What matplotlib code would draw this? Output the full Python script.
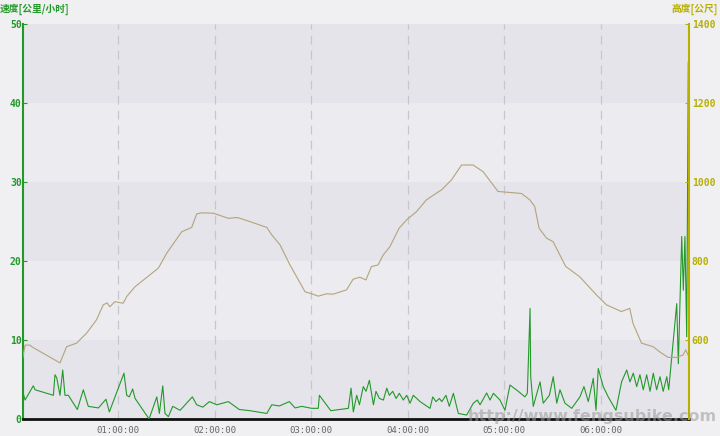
import numpy as np
import matplotlib
matplotlib.use("Agg")
import matplotlib.pyplot as plt

plt.rcParams["font.family"] = ["Noto Sans CJK SC", "DejaVu Sans"]

# speed track: minutes since start, km/h
speed_t = [0.7, 2.2, 7.3, 8.4, 19.8, 20.8, 21.9, 22.9, 23.9, 25.6, 27.0, 29.1,
           34.7, 38.4, 41.5, 47.8, 52.5, 54.6, 63.7, 65.4, 67.0, 69.1, 70.6,
           79.3, 84.1, 85.7, 87.8, 89.2, 91.3, 94.0, 98.6, 106.2, 108.9, 112.7,
           116.8, 121.4, 128.6, 135.4, 142.1, 152.5, 155.6, 160.3, 166.5, 170.1,
           174.2, 180.4, 184.5, 185.2, 192.3, 203.2, 204.9, 206.3, 208.4, 210.1,
           212.5, 214.2, 216.3, 218.8, 220.4, 222.5, 225.0, 227.1, 228.7, 230.8,
           232.9, 234.9, 237.4, 239.5, 241.6, 243.6, 247.8, 254.0, 255.7, 257.7,
           259.8, 261.3, 263.9, 266.0, 268.5, 271.6, 276.8, 280.9, 283.4, 285.1,
           289.2, 291.3, 293.4, 297.5, 300.6, 303.7, 308.9, 313.0, 314.5, 316.2,
           316.6, 318.2, 322.4, 324.4, 328.2, 330.6, 332.8, 334.8, 337.9, 342.1,
           347.2, 349.7, 352.4, 355.5, 357.2, 358.6, 361.7, 364.8, 369.6, 373.1,
           376.3, 378.3, 380.4, 382.5, 384.5, 386.6, 388.7, 390.8, 392.8, 394.9,
           397.0, 399.0, 401.2, 402.4, 404.3, 407.4, 408.4, 410.5, 411.5, 412.5,
           413.6, 414.6, 415.0]
speed_v = [3.5, 2.4, 4.2, 3.7, 3.0, 5.6, 5.2, 4.1, 3.0, 6.2, 3.0, 3.0,
           1.2, 3.7, 1.6, 1.4, 2.5, 0.9, 5.8, 3.0, 2.8, 3.8, 2.6,
           0.0, 2.8, 0.7, 4.2, 0.7, 0.3, 1.6, 1.1, 2.8, 1.8, 1.5,
           2.2, 1.8, 2.2, 1.2, 1.05, 0.7, 1.8, 1.65, 2.2, 1.4,
           1.6, 1.35, 1.35, 3.0, 1.05, 1.35, 3.9, 0.9, 3.0, 1.8,
           4.1, 3.5, 4.9, 1.8, 3.5, 2.6, 2.4, 3.9, 3.0, 3.5,
           2.6, 3.25, 2.4, 3.0, 2.0, 3.0, 2.2, 1.35, 2.8, 2.2,
           2.6, 2.2, 3.0, 1.6, 3.25, 0.7, 0.5, 2.0, 2.4, 1.8,
           3.3, 2.4, 3.25, 2.4, 1.1, 4.3, 3.5, 2.8, 3.25, 14.0,
           5.35, 1.6, 4.7, 2.0, 3.0, 5.35, 2.0, 3.7, 2.0, 1.35,
           2.8, 4.1, 2.2, 5.15, 1.1, 6.4, 4.1, 2.8, 1.1, 4.7,
           6.2, 4.7, 5.8, 4.1, 5.6, 3.7, 5.6, 3.5, 5.8, 3.7,
           5.35, 3.5, 5.35, 3.7, 7.9, 14.6, 7.0, 23.1, 16.3, 23.1,
           10.4, 45.2, 16.3]

# altitude track: minutes since start, metres
alt_t = [0.7, 2.2, 5.3, 6.3, 23.9, 28.0, 34.2, 40.4, 46.6, 50.8, 53.2, 54.9,
         58.0, 63.2, 65.4, 70.6, 85.1, 90.3, 99.6, 105.8, 108.9, 112.0, 119.3,
         128.6, 133.8, 135.9, 148.3, 152.5, 155.6, 160.7, 166.9, 176.3, 180.4,
         184.5, 189.7, 193.8, 202.1, 206.2, 210.4, 214.1, 217.6, 221.7, 224.8,
         229.0, 234.8, 239.4, 245.6, 251.8, 261.1, 267.3, 273.6, 280.8, 287.0,
         296.3, 310.8, 316.0, 319.1, 321.8, 326.4, 330.5, 338.4, 347.1, 357.5,
         363.7, 373.0, 378.2, 380.2, 385.5, 389.6, 392.7, 396.8, 402.0, 407.2,
         411.3, 413.0, 414.4]
alt_h = [554, 587, 587, 583, 542, 583, 592, 617, 651, 689, 694, 684,
         697, 693, 710, 735, 782, 820, 874, 885, 919, 922, 921,
         908, 910, 908, 891, 885, 866, 841, 790, 722, 717,
         711, 717, 716, 727, 754, 759, 752, 786, 790, 815,
         836, 883, 904, 925, 955, 980, 1005, 1043, 1043, 1026,
         976, 971, 955, 938, 883, 858, 849, 786, 760, 714,
         689, 672, 680, 642, 592, 587, 583, 570, 556, 556,
         562, 575, 562]

hour_ticks = [60, 120, 180, 240, 300, 360]
hour_labels = ["01:00:00", "02:00:00", "03:00:00", "04:00:00", "05:00:00", "06:00:00"]
speed_ticks = [0, 10, 20, 30, 40, 50]
alt_ticks = [600, 800, 1000, 1200, 1400]

GREEN = "#23992a"
OLIVE = "#b8b000"
TAN = "#b3a47c"

fig = plt.figure(figsize=(7.2, 4.36), dpi=100, facecolor="#f0f0f2")
ax = fig.add_axes([0.032, 0.039, 0.925, 0.906])
ax.set_facecolor("#ececf0")

# alternating bands
for lo in range(0, 50, 20):
    ax.axhspan(lo, lo + 10, color="#e4e4ea", zorder=0, lw=0)

ax.set_xlim(0.93, 415.05)
ax.set_ylim(0, 50)
for h in hour_ticks:
    ax.axvline(h, color="#c6c6cc", lw=0.9, ls=(0, (7, 5)), zorder=1)

ax.plot(speed_t, speed_v, color=GREEN, lw=0.8, zorder=3)

ax.set_xticks(hour_ticks)
ax.set_xticklabels(hour_labels, family="DejaVu Sans Mono", fontsize=6.5,
                   color="#666666")
ax.set_yticks(speed_ticks)
ax.set_yticklabels([str(v) for v in speed_ticks], family="DejaVu Sans Mono",
                   fontsize=7, color=GREEN, fontweight="bold")
ax.tick_params(axis="x", length=0, pad=5)
ax.tick_params(axis="y", length=3, color=GREEN, pad=1, direction="in")

for s in ["top", "right"]:
    ax.spines[s].set_visible(False)
ax.spines["left"].set_color(GREEN)
ax.spines["left"].set_linewidth(1.5)
ax.spines["bottom"].set_color("#111111")
ax.spines["bottom"].set_linewidth(2)

ax2 = ax.twinx()
ax2.set_ylim(400, 1400)
ax2.plot(alt_t, alt_h, color=TAN, lw=0.8, zorder=2)
ax2.set_yticks(alt_ticks)
ax2.set_yticklabels([str(v) for v in alt_ticks], family="DejaVu Sans Mono",
                    fontsize=7, color=OLIVE, fontweight="bold")
ax2.tick_params(axis="y", length=3, color=OLIVE, pad=2, direction="in")
for s in ["top", "left", "bottom"]:
    ax2.spines[s].set_visible(False)
ax2.spines["right"].set_color(OLIVE)
ax2.spines["right"].set_linewidth(1.5)

fig.text(0.0, 0.978, "速度[公里/小时]", color=GREEN, fontsize=7,
         fontweight="bold", va="center", ha="left")
fig.text(0.997, 0.978, "高度[公尺]", color=OLIVE, fontsize=7,
         fontweight="bold", va="center", ha="right")

# watermark
fig.text(0.995, 0.045, "http://www.fengsubike.com", color="#9a9a9a",
         alpha=0.55, fontsize=11.5, fontweight="bold", va="center", ha="right",
         family="DejaVu Sans")

fig.savefig("out.png", dpi=100, facecolor=fig.get_facecolor())
